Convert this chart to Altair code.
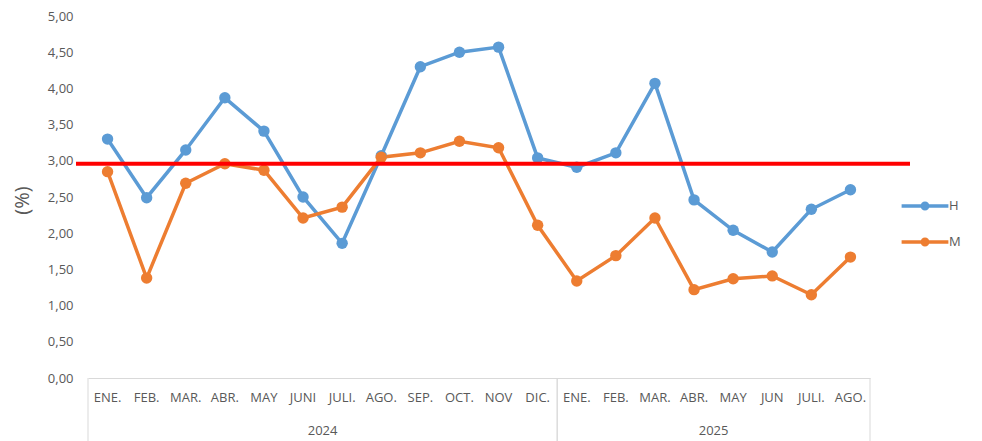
import altair as alt
import pandas as pd

months = ["ENE.", "FEB.", "MAR.", "ABR.", "MAY", "JUNI", "JULI.", "AGO.", "SEP.", "OCT.", "NOV", "DIC.",
          "ENE.", "FEB.", "MAR.", "ABR.", "MAY", "JUN", "JULI.", "AGO."]
years = ["2024"] * 12 + ["2025"] * 8
h_values = [3.30, 2.49, 3.15, 3.87, 3.41, 2.50, 1.86, 3.07, 4.30, 4.50, 4.57, 3.04,
            2.91, 3.11, 4.07, 2.46, 2.04, 1.74, 2.33, 2.60]
m_values = [2.85, 1.38, 2.69, 2.96, 2.87, 2.21, 2.36, 3.05, 3.11, 3.27, 3.18, 2.11,
            1.34, 1.69, 2.21, 1.22, 1.37, 1.41, 1.15, 1.67]
target = 2.96
series_names = ["H", "M"]
series_colors = ["#5B9BD5", "#ED7D31"]
y_ticks = [0, 0.5, 1, 1.5, 2, 2.5, 3, 3.5, 4, 4.5, 5]

rows = []
for i, (mo, yr) in enumerate(zip(months, years)):
    rows.append({"idx": i, "month": mo, "year": yr, "series": "H", "value": h_values[i]})
    rows.append({"idx": i, "month": mo, "year": yr, "series": "M", "value": m_values[i]})
df = pd.DataFrame(rows)
cats = pd.DataFrame({"idx": list(range(len(months))), "month": months, "year": years})
tgt = pd.DataFrame({"target": [target]})

W, H = 782, 362
FONT = "Open Sans"
GREY = "#595959"
LINE = "#d9d9d9"

xscale = alt.Scale(domain=[-0.5, len(months) - 0.5], nice=False, zero=False)
xaxis = alt.Axis(labels=False, ticks=False, grid=False, domainColor=LINE, domainWidth=1, title=None)
yscale = alt.Scale(domain=[0, 5], nice=False, zero=True)
yaxis = alt.Axis(values=y_ticks, labelExpr="replace(format(datum.value, '.2f'), '.', ',')",
                 grid=False, domain=False, ticks=False, tickSize=0, labelPadding=15,
                 labelFontSize=13, labelColor=GREY, labelFont=FONT,
                 title="(%)", titleFontSize=20, titleFontWeight="normal", titleColor=GREY,
                 titleFont=FONT, titleX=-66, titleY=184, titleAlign="center",
                 titleBaseline="middle", titleAngle=270)

legend_path = "M-2.6,0H2.6M-0.3,0A0.3,0.3 0 1,0 0.3,0A0.3,0.3 0 1,0 -0.3,0Z"

lines = alt.Chart(df).mark_line(
    strokeWidth=3.5,
    point=alt.OverlayMarkDef(filled=True, size=130, opacity=1),
).encode(
    x=alt.X("idx:Q", scale=xscale, axis=xaxis),
    y=alt.Y("value:Q", scale=yscale, axis=yaxis),
    color=alt.Color("series:N", scale=alt.Scale(domain=series_names, range=series_colors),
                    legend=alt.Legend(title=None, orient="none", legendX=826, legendY=179,
                                      symbolType=legend_path, symbolSize=324,
                                      symbolStrokeWidth=3.5, labelOffset=13, rowPadding=15,
                                      labelFontSize=13, labelColor=GREY, labelFont=FONT,
                                      padding=0)),
)

redline = alt.Chart(tgt).mark_rule(color="#FF0000", strokeWidth=4).encode(
    y=alt.Y("target:Q", scale=yscale, axis=yaxis),
    x=alt.value(-12),
    x2=alt.value(822),
)

month_text = alt.Chart(cats).mark_text(fontSize=13, color=GREY, font=FONT, baseline="middle").encode(
    x=alt.X("idx:Q", scale=xscale, axis=xaxis),
    y=alt.value(382),
    text="month:N",
)

year_text = alt.Chart(cats).transform_aggregate(
    c="mean(idx)", groupby=["year"]
).mark_text(fontSize=13, color=GREY, font=FONT, baseline="middle").encode(
    x=alt.X("c:Q", scale=xscale, axis=xaxis),
    y=alt.value(415),
    text="year:N",
)

borders = alt.Chart(cats).transform_aggregate(
    lo="min(idx)", hi="max(idx)", groupby=["year"]
).transform_fold(["lo", "hi"], as_=["k", "v"]).transform_calculate(
    b="datum.k == 'lo' ? datum.v - 0.5 : datum.v + 0.5"
).mark_rule(color=LINE, strokeWidth=1).encode(
    x=alt.X("b:Q", scale=xscale, axis=xaxis),
    y=alt.value(H),
    y2=alt.value(H + 70),
)

chart = alt.layer(borders, lines, redline, month_text, year_text).properties(
    width=W, height=H,
    autosize=alt.AutoSizeParams(type="none"),
    padding={"left": 80, "top": 8, "right": 104, "bottom": 63},
    background="white",
).configure_view(stroke=None)

chart.save("out.html", embed_options={"renderer": "svg", "actions": False})
